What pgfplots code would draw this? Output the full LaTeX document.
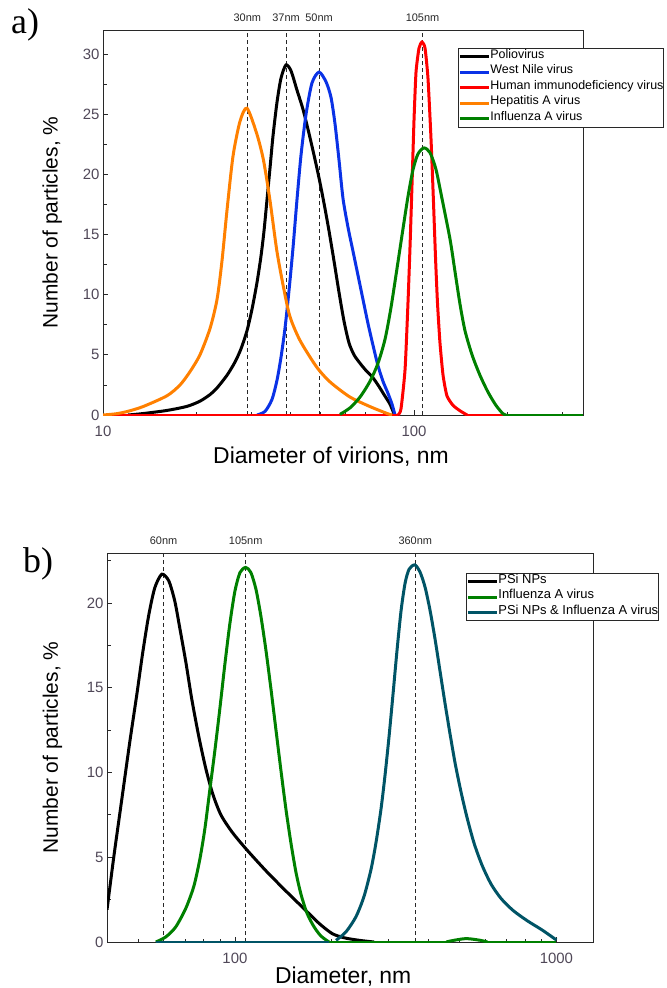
\documentclass[border=0pt]{standalone}
\usepackage{fontspec}
\setmainfont{Liberation Sans}
\newfontfamily\panelfont{Liberation Serif}
\usepackage{pgfplots}
\pgfplotsset{compat=1.18}

\definecolor{tickgray}{RGB}{80,72,88}
\definecolor{axgray}{RGB}{40,40,40}
\definecolor{cblue}{RGB}{10,50,230}
\definecolor{cgreen}{RGB}{0,128,0}
\definecolor{corange}{RGB}{255,128,0}
\definecolor{cteal}{RGB}{0,84,102}

\tikzset{toplabel/.style={font=\fontsize{11}{11}\selectfont, text=axgray, anchor=base, yshift=9bp}}

\pgfplotsset{
  panel/.style={
    scale only axis, ymin=0, clip mode=individual,
    axis line style={axgray, line width=1bp},
    every tick/.style={axgray, line width=0.8bp},
    major tick length=5bp, minor tick length=3.5bp,
    tick pos=left, tick align=inside,
    yticklabel style={font=\fontsize{15}{15}\selectfont, text=tickgray},
    xticklabel style={font=\fontsize{15}{15}\selectfont, text=tickgray, anchor=base, yshift=-21bp},
    /pgf/number format/assume math mode=true,
    xlabel style={font=\fontsize{23}{23}\selectfont, anchor=base},
    ylabel style={font=\fontsize{21}{21}\selectfont, anchor=center},
    ylabel={Number of particles, \%},
    legend cell align=left,
    legend image code/.code={\draw[##1] (0bp,0bp) -- (29bp,0bp);},
  },
  curve/.style={smooth, tension=0.45, line width=3bp, no markers},
  base/.style={line width=3bp, no markers, forget plot},
  refline/.style={axgray, line width=0.9bp, dash pattern=on 4bp off 3bp, forget plot},
}

\begin{document}
\begin{tikzpicture}
\useasboundingbox (0,0) rectangle (667bp,-988bp);

\node[anchor=base west, inner sep=0pt, font=\panelfont\fontsize{36}{36}\selectfont] at (11bp,-33bp) {a)};
\node[anchor=base west, inner sep=0pt, font=\panelfont\fontsize{36}{36}\selectfont] at (23bp,-572bp) {b)};

% ---- panel a ----
\begin{semilogxaxis}[panel,
  at={(103bp,-415bp)}, anchor=south west,
  width=480bp, height=385bp,
  xmin=10, xmax=349.5, ymax=32,
  xtick={10,100}, xticklabels={10,100},
  minor xtick={20,30,40,50,60,70,80,90,200,300},
  ytick={0,5,10,15,20,25,30},
  minor ytick={2.5,7.5,12.5,17.5,22.5,27.5},
  xlabel={Diameter of virions, nm},
  xlabel style={at={(axis description cs:0.475,-0.126)}},
  ylabel style={at={(axis description cs:-0.106,0.5)}},
  legend style={at={(0.7396,0.9532)}, anchor=north west, draw=axgray, line width=0.8bp,
    inner xsep=0bp, inner ysep=0.5bp, row sep=0bp,
    font=\fontsize{12.5}{12.5}\selectfont,
    nodes={inner sep=0pt, text height=9.5bp, text depth=6bp}},
]
\addplot[refline] coordinates {(29.1,0) (29.1,32)};
\addplot[refline] coordinates {(38.8,0) (38.8,32)};
\addplot[refline] coordinates {(49.5,0) (49.5,32)};
\addplot[refline] coordinates {(106.5,0) (106.5,32)};

\addplot[curve, black] coordinates {
  (12.03,0) (13.45,0.12) (16.06,0.38) (18.63,0.72) (20.50,1.15) (22.09,1.7) (23.26,2.25)
  (25.04,3.3) (26.57,4.4) (27.78,5.5) (29.04,7.0) (30.14,8.8) (31.27,11.0) (32.21,13.2)
  (32.94,15.3) (33.68,17.9) (34.43,20.5) (35.21,23.2) (36.27,26.0) (37.36,28.0)
  (38.77,29.1) (40.24,28.6) (42.05,27.0) (43.97,25.4) (45.96,23.4) (47.70,21.6)
  (49.50,19.7) (51.36,17.6) (53.30,15.3) (55.31,12.8) (57.39,10.2) (59.56,7.8)
  (61.80,6.0) (64.14,5.0) (67.06,4.3) (70.10,3.7) (73.28,3.2) (76.60,2.5) (80.08,1.7)
  (83.71,0.9) (86.25,0.1) (87,0)
};
\addlegendentry{Poliovirus}

\addplot[curve, cblue] coordinates {
  (31.27,0) (33.19,0.3) (34.95,1.3) (36.27,2.9) (37.36,4.8) (38.48,7.2) (39.63,10.3)
  (40.83,13.9) (42.05,17.9) (43.32,21.6) (44.96,25.0) (46.99,27.6) (49.50,28.5)
  (52.12,27.7) (54.09,26.4) (55.72,24.2) (57.39,21.2) (59.12,18.0) (61.35,15.6)
  (63.67,13.6) (66.07,11.6) (68.55,9.6) (71.14,7.6) (73.82,5.8) (76.60,4.1) (79.49,2.8)
  (82.49,1.8) (84.98,0.9) (86.88,0)
};
\addlegendentry{West Nile virus}

\addplot[curve, red, tension=0.35] coordinates {
  (88.8,0) (90.8,0.5) (93.6,3.8) (95.7,9.5) (97.1,14.0) (98.5,19.0) (100.0,24.5)
  (101.5,28.5) (103.8,30.5) (106.1,31.0) (108.5,30.5) (110.9,28.0) (113.4,23.0)
  (115.4,18.0) (117.3,13.0) (119.0,9.3) (121.2,6.0) (124.0,3.3) (127.6,1.6) (133.5,0.8)
  (140.6,0.35) (148.1,0)
};
\addlegendentry{Human immunodeficiency virus}
\addplot[base, red] coordinates {(10,0) (88.8,0)};
\addplot[base, red] coordinates {(148.1,0) (349.5,0)};

\addplot[curve, corange] coordinates {
  (10,0) (11,0.1) (12,0.3) (13.45,0.7) (16.06,1.6) (17.69,2.5) (19.04,3.6) (20.50,5.0)
  (22.09,7.2) (23.26,9.6) (24.13,12.8) (25.04,17.0) (26.18,21.5) (27.57,24.4)
  (29.04,25.5) (31.2,23.4) (32.8,21.2) (34.4,17.9) (36.2,13.7) (38.0,10.7) (39.9,8.2)
  (43.0,6.2) (48.6,4.0) (53.7,2.75) (62.2,1.5) (72.2,0.7) (81.7,0.14) (85,0)
};
\addlegendentry{Hepatitis A virus}

\addplot[curve, cgreen] coordinates {
  (57.8,0.05) (62.3,0.6) (67.1,1.5) (72.2,2.8) (76.6,4.3) (80.7,6.3) (84.3,8.9) (88.2,12.2)
  (92.2,15.5) (95.7,18.2) (99.3,20.4) (103.0,21.7) (107.7,22.2) (112.6,21.8) (117.7,20.4)
  (123.0,18.0) (130.6,14.6) (135.5,11.9) (140.6,9.2) (145.9,7.0) (153.7,5.0)
  (163.0,3.3) (173.0,1.9) (183.5,0.8) (193.3,0.1) (198,0)
};
\addlegendentry{Influenza A virus}
\addplot[base, cgreen] coordinates {(198,0) (349.5,0)};

\node[toplabel] at (axis cs:29.1,32) {30nm};
\node[toplabel] at (axis cs:38.8,32) {37nm};
\node[toplabel] at (axis cs:49.5,32) {50nm};
\node[toplabel] at (axis cs:106.5,32) {105nm};
\end{semilogxaxis}

% ---- panel b ----
\begin{semilogxaxis}[panel,
  at={(107bp,-942bp)}, anchor=south west,
  width=486bp, height=389bp,
  xmin=40, xmax=1300, ymax=22.95,
  xtick={100,1000}, xticklabels={100,1000},
  minor xtick={50,60,70,80,90,200,300,400,500,600,700,800,900},
  ytick={0,5,10,15,20},
  minor ytick={2.5,7.5,12.5,17.5,22.5},
  xlabel={Diameter, nm},
  xlabel style={at={(axis description cs:0.486,-0.1054)}},
  ylabel style={at={(axis description cs:-0.1121,0.5)}},
  legend style={at={(0.7387,0.9486)}, anchor=north west, draw=axgray, line width=0.8bp,
    inner xsep=0bp, inner ysep=0.5bp, row sep=0bp,
    font=\fontsize{13}{13}\selectfont,
    nodes={inner sep=0pt, text height=9.5bp, text depth=5.9bp}},
]
\addplot[refline] coordinates {(60,0) (60,22.95)};
\addplot[refline] coordinates {(108,0) (108,22.95)};
\addplot[refline] coordinates {(364,0) (364,22.95)};

\addplot[curve, black] coordinates {
  (40,1.9) (41.98,5.0) (44.46,8.4) (47.09,11.8) (49.52,14.6) (51.69,17.1) (53.96,19.3)
  (56.33,20.9) (59.24,21.7) (62.29,21.3) (65.03,20.1) (67.41,18.5) (70.38,16.5)
  (73.47,14.3) (77.26,12.1) (81.25,10.2) (85.43,8.7) (90.45,7.5) (97.88,6.5) (108.2,5.5)
  (124.9,4.2) (144.2,3.0) (166.4,1.85) (182.7,1.1) (200.6,0.5) (218.6,0.25) (243.4,0.1)
  (271,0)
};
\addlegendentry{PSi NPs}
\addplot[base, black] coordinates {(271,0) (400,0)};

\addplot[curve, cgreen] coordinates {
  (56.74,0) (60.96,0.3) (65.49,0.9) (70.38,2.0) (74.54,3.3) (77.82,4.9) (80.66,6.7)
  (83.58,9.0) (86.63,11.3) (89.81,13.8) (93.07,16.4) (96.47,18.8) (100,20.7) (103.7,21.8)
  (108.0,22.1) (112.1,21.8) (116.3,20.8) (120.5,19.2) (124.9,17.2) (129.5,14.9)
  (134.2,12.5) (139.1,10.1) (144.2,7.8) (149.5,5.8) (154.9,4.1) (160.6,2.8) (167.6,1.7)
  (176.2,0.9) (185.3,0.35) (196.3,0)
};
\addlegendentry{Influenza A virus}

\addplot[curve, cteal] coordinates {
  (206.3,0.1) (221.6,0.6) (238.1,1.5) (252.2,2.7) (265.2,4.3) (274.9,5.9) (285.0,7.9)
  (293.3,9.9) (301.9,12.2) (310.6,14.7) (319.7,17.3) (329.0,19.6) (338.6,21.2) (348.4,22.0)
  (363.0,22.25) (377.1,21.8) (390.9,20.9) (405.2,19.5) (419.9,17.8) (435.2,15.9)
  (451.1,14.0) (467.6,12.2) (484.7,10.5) (505.8,8.8) (528.0,7.3) (555.2,5.8) (588.1,4.5)
  (627.2,3.4) (674.0,2.55) (734.6,1.85) (812.5,1.25) (904.5,0.7) (1000,0.12)
};
\addlegendentry{PSi NPs \& Influenza A virus}
\addplot[base, cteal] coordinates {(56.74,0) (206.3,0)};

\addplot[base, cgreen] coordinates {(196.3,0) (454,0)};
\addplot[base, cgreen, smooth] coordinates {(454,0) (480,0.1) (525,0.2) (580,0.1) (610,0)};
\addplot[base, cgreen] coordinates {(610,0) (1000,0)};

\node[toplabel] at (axis cs:60,22.95) {60nm};
\node[toplabel] at (axis cs:108,22.95) {105nm};
\node[toplabel] at (axis cs:364,22.95) {360nm};
\end{semilogxaxis}
\end{tikzpicture}
\end{document}
